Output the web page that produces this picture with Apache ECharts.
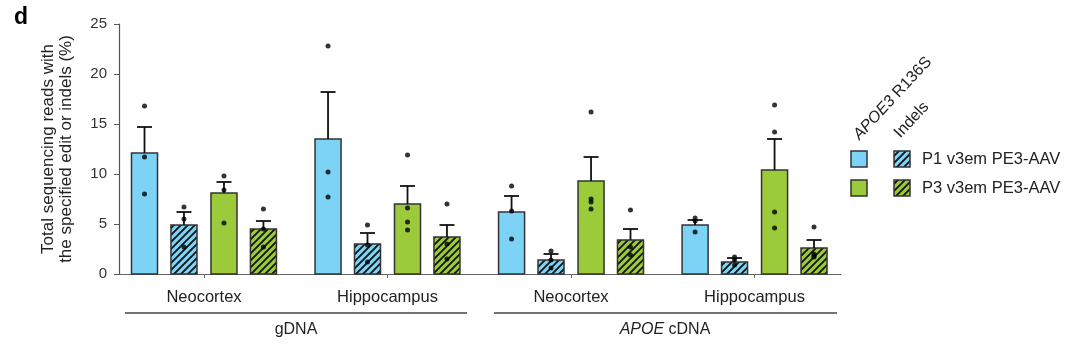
<!DOCTYPE html>
<html><head><meta charset="utf-8">
<script src="https://cdn.jsdelivr.net/npm/echarts@6/dist/echarts.min.js"></script>
<style>html,body{margin:0;padding:0;background:#fff}#c{width:1080px;height:349px}</style>
</head><body><div id="c"></div>
<script>
// ---- data ----
const groups = ['Neocortex', 'Hippocampus', 'Neocortex', 'Hippocampus'];
const yTicks = [0, 5, 10, 15, 20, 25];
// P1 v3em PE3-AAV, APOE3 R136S
const p1Edit = [12.1, 13.5, 6.2, 4.9];
const p1EditErr = [14.7, 18.2, 7.8, 5.4];
const p1EditPts = [[16.8, 11.7, 8.0], [22.8, 10.2, 7.7], [8.8, 6.3, 3.5], [5.6, 5.3, 4.2]];
// P1 v3em PE3-AAV, indels
const p1Indel = [4.9, 3.0, 1.4, 1.2];
const p1IndelErr = [6.2, 4.1, 2.0, 1.6];
const p1IndelPts = [[6.7, 5.5, 2.7], [4.9, 2.9, 1.2], [2.3, 1.4, 0.6], [1.7, 1.4, 0.9]];
// P3 v3em PE3-AAV, APOE3 R136S
const p3Edit = [8.1, 7.0, 9.3, 10.4];
const p3EditErr = [9.2, 8.8, 11.7, 13.5];
const p3EditPts = [[9.8, 8.4, 5.1], [11.9, 6.6, 5.2, 4.4], [16.2, 7.5, 7.2, 6.5], [16.9, 14.2, 6.2, 4.6]];
// P3 v3em PE3-AAV, indels
const p3Indel = [4.5, 3.7, 3.4, 2.6];
const p3IndelErr = [5.3, 4.9, 4.5, 3.4];
const p3IndelPts = [[6.5, 4.5, 2.7], [7.0, 3.0, 1.5], [6.4, 2.7, 1.9], [4.7, 2.0, 1.8, 1.7]];

// ---- styles / layout ----
const BLUE = '#7dd3f6', GREEN = '#9bcb3b', EDGE = '#333';
const offsets = [-0.324, -0.109, 0.109, 0.324];
const HW = 0.0709;
function hatch(color) {
  const c = document.createElement('canvas');
  c.width = 7; c.height = 7;
  const g = c.getContext('2d');
  g.fillStyle = color; g.fillRect(0, 0, 7, 7);
  g.strokeStyle = '#111'; g.lineWidth = 1.8;
  g.beginPath();
  for (const k of [-7, 0, 7]) { g.moveTo(k - 1, 8); g.lineTo(k + 8, -1); }
  g.stroke();
  return c;
}
const FILLS = [BLUE, {image: hatch(BLUE), repeat: 'repeat'}, GREEN, {image: hatch(GREEN), repeat: 'repeat'}];
const means = [p1Edit, p1Indel, p3Edit, p3Indel];
const errs = [p1EditErr, p1IndelErr, p3EditErr, p3IndelErr];
const pts = [p1EditPts, p1IndelPts, p3EditPts, p3IndelPts];
const names = ['P1 APOE3 R136S', 'P1 Indels', 'P3 APOE3 R136S', 'P3 Indels'];

const series = [];
means.forEach((m, s) => {
  series.push({
    type: 'custom', name: names[s], xAxisIndex: 0, yAxisIndex: 0, z: 3,
    data: m.map((v, g) => [g + offsets[s], v, errs[s][g]]),
    renderItem: (params, api) => {
      const x = api.value(0), v = api.value(1), e = api.value(2);
      const p0 = api.coord([x - HW, v]), p1 = api.coord([x + HW, 0]);
      const top = api.coord([x, v]), et = api.coord([x, e]);
      return {type: 'group', children: [
        {type: 'rect', shape: {x: p0[0], y: p0[1], width: p1[0] - p0[0], height: p1[1] - p0[1]},
         style: {fill: FILLS[s], stroke: EDGE, lineWidth: 1.5}},
        {type: 'line', shape: {x1: top[0], y1: top[1], x2: et[0], y2: et[1]}, style: {stroke: '#111', lineWidth: 1.8}},
        {type: 'line', shape: {x1: et[0] - 7.5, y1: et[1], x2: et[0] + 7.5, y2: et[1]}, style: {stroke: '#111', lineWidth: 1.8}}
      ]};
    }
  });
});
const dots = [];
pts.forEach((arr, s) => arr.forEach((list, g) => list.forEach(v => dots.push([g + offsets[s], v]))));
series.push({type: 'scatter', xAxisIndex: 0, yAxisIndex: 0, z: 5, symbolSize: 5,
  itemStyle: {color: '#000'}, data: dots});

const FONT = 'Liberation Sans, Arial, sans-serif';
const chart = echarts.init(document.getElementById('c'), null, {renderer: 'canvas'});
const legendRows = [
  {y: 151, text: 'P1 v3em PE3-AAV', a: BLUE, b: FILLS[1]},
  {y: 180, text: 'P3 v3em PE3-AAV', a: GREEN, b: FILLS[3]}
];
const graphic = [
  {type: 'text', left: 14, top: 6, style: {text: 'd', font: 'bold 23px ' + FONT, fill: '#000'}},
  {type: 'line', shape: {x1: 125, y1: 313, x2: 467, y2: 313}, style: {stroke: '#444', lineWidth: 1.3}},
  {type: 'line', shape: {x1: 494, y1: 313, x2: 837, y2: 313}, style: {stroke: '#444', lineWidth: 1.3}},
  {type: 'text', x: 296, y: 330, style: {text: 'gDNA', font: '16px ' + FONT, fill: '#222', textAlign: 'center', textVerticalAlign: 'middle'}},
  {type: 'text', x: 665, y: 330, style: {text: '{i|APOE} cDNA', font: '16px ' + FONT, fill: '#222', textAlign: 'center', textVerticalAlign: 'middle',
    rich: {i: {fontStyle: 'italic', fontSize: 16, fontFamily: FONT, fill: '#222'}}}},
  {type: 'text', x: 862, y: 143, rotation: 47 * Math.PI / 180, style: {text: '{i|APOE3} R136S', font: '16px ' + FONT, fill: '#222', textAlign: 'left', textVerticalAlign: 'bottom',
    rich: {i: {fontStyle: 'italic', fontSize: 16, fontFamily: FONT, fill: '#222'}}}},
  {type: 'text', x: 903, y: 141, rotation: 47 * Math.PI / 180, style: {text: 'Indels', font: '16px ' + FONT, fill: '#222', textAlign: 'left', textVerticalAlign: 'bottom'}}
];
legendRows.forEach(r => {
  graphic.push({type: 'rect', shape: {x: 851, y: r.y, width: 16, height: 16}, style: {fill: r.a, stroke: EDGE, lineWidth: 1.5}});
  graphic.push({type: 'rect', shape: {x: 894, y: r.y, width: 16, height: 16}, style: {fill: r.b, stroke: EDGE, lineWidth: 1.5}});
  graphic.push({type: 'text', x: 922, y: r.y + 8, style: {text: r.text, font: '16.5px ' + FONT, fill: '#222', textVerticalAlign: 'middle'}});
});

chart.setOption({
  animation: false,
  textStyle: {fontFamily: FONT},
  grid: [
    {left: 119, width: 722, top: 24, bottom: 75},
    {left: 112.25, width: 734, top: 24, bottom: 75}
  ],
  xAxis: [
    {type: 'value', gridIndex: 0, min: -0.463, max: 3.471, axisLine: {show: true, onZero: false, lineStyle: {color: '#666', width: 1.2}},
     axisTick: {show: false}, axisLabel: {show: false}, splitLine: {show: false}},
    {type: 'category', gridIndex: 1, data: groups, boundaryGap: true,
     axisLine: {show: false}, axisTick: {show: true, alignWithLabel: true, length: 4, lineStyle: {color: '#666'}},
     axisLabel: {margin: 15, fontSize: 16.5, color: '#222', fontFamily: FONT}}
  ],
  yAxis: [
    {type: 'value', gridIndex: 0, min: 0, max: 25, interval: 5,
     name: 'Total sequencing reads with\nthe specified edit or indels (%)', nameLocation: 'middle', nameGap: 44, nameRotate: 90,
     nameTextStyle: {fontSize: 17, color: '#222', lineHeight: 18, fontFamily: FONT},
     axisLine: {show: true, onZero: false, lineStyle: {color: '#555', width: 1.2}},
     axisTick: {show: true, inside: false, length: 5, lineStyle: {color: '#555'}},
     axisLabel: {fontSize: 15, color: '#333', margin: 12, fontFamily: FONT}, splitLine: {show: false}},
    {type: 'value', gridIndex: 1, min: 0, max: 25, show: false}
  ],
  series: series,
  graphic: graphic
});
</script></body></html>
